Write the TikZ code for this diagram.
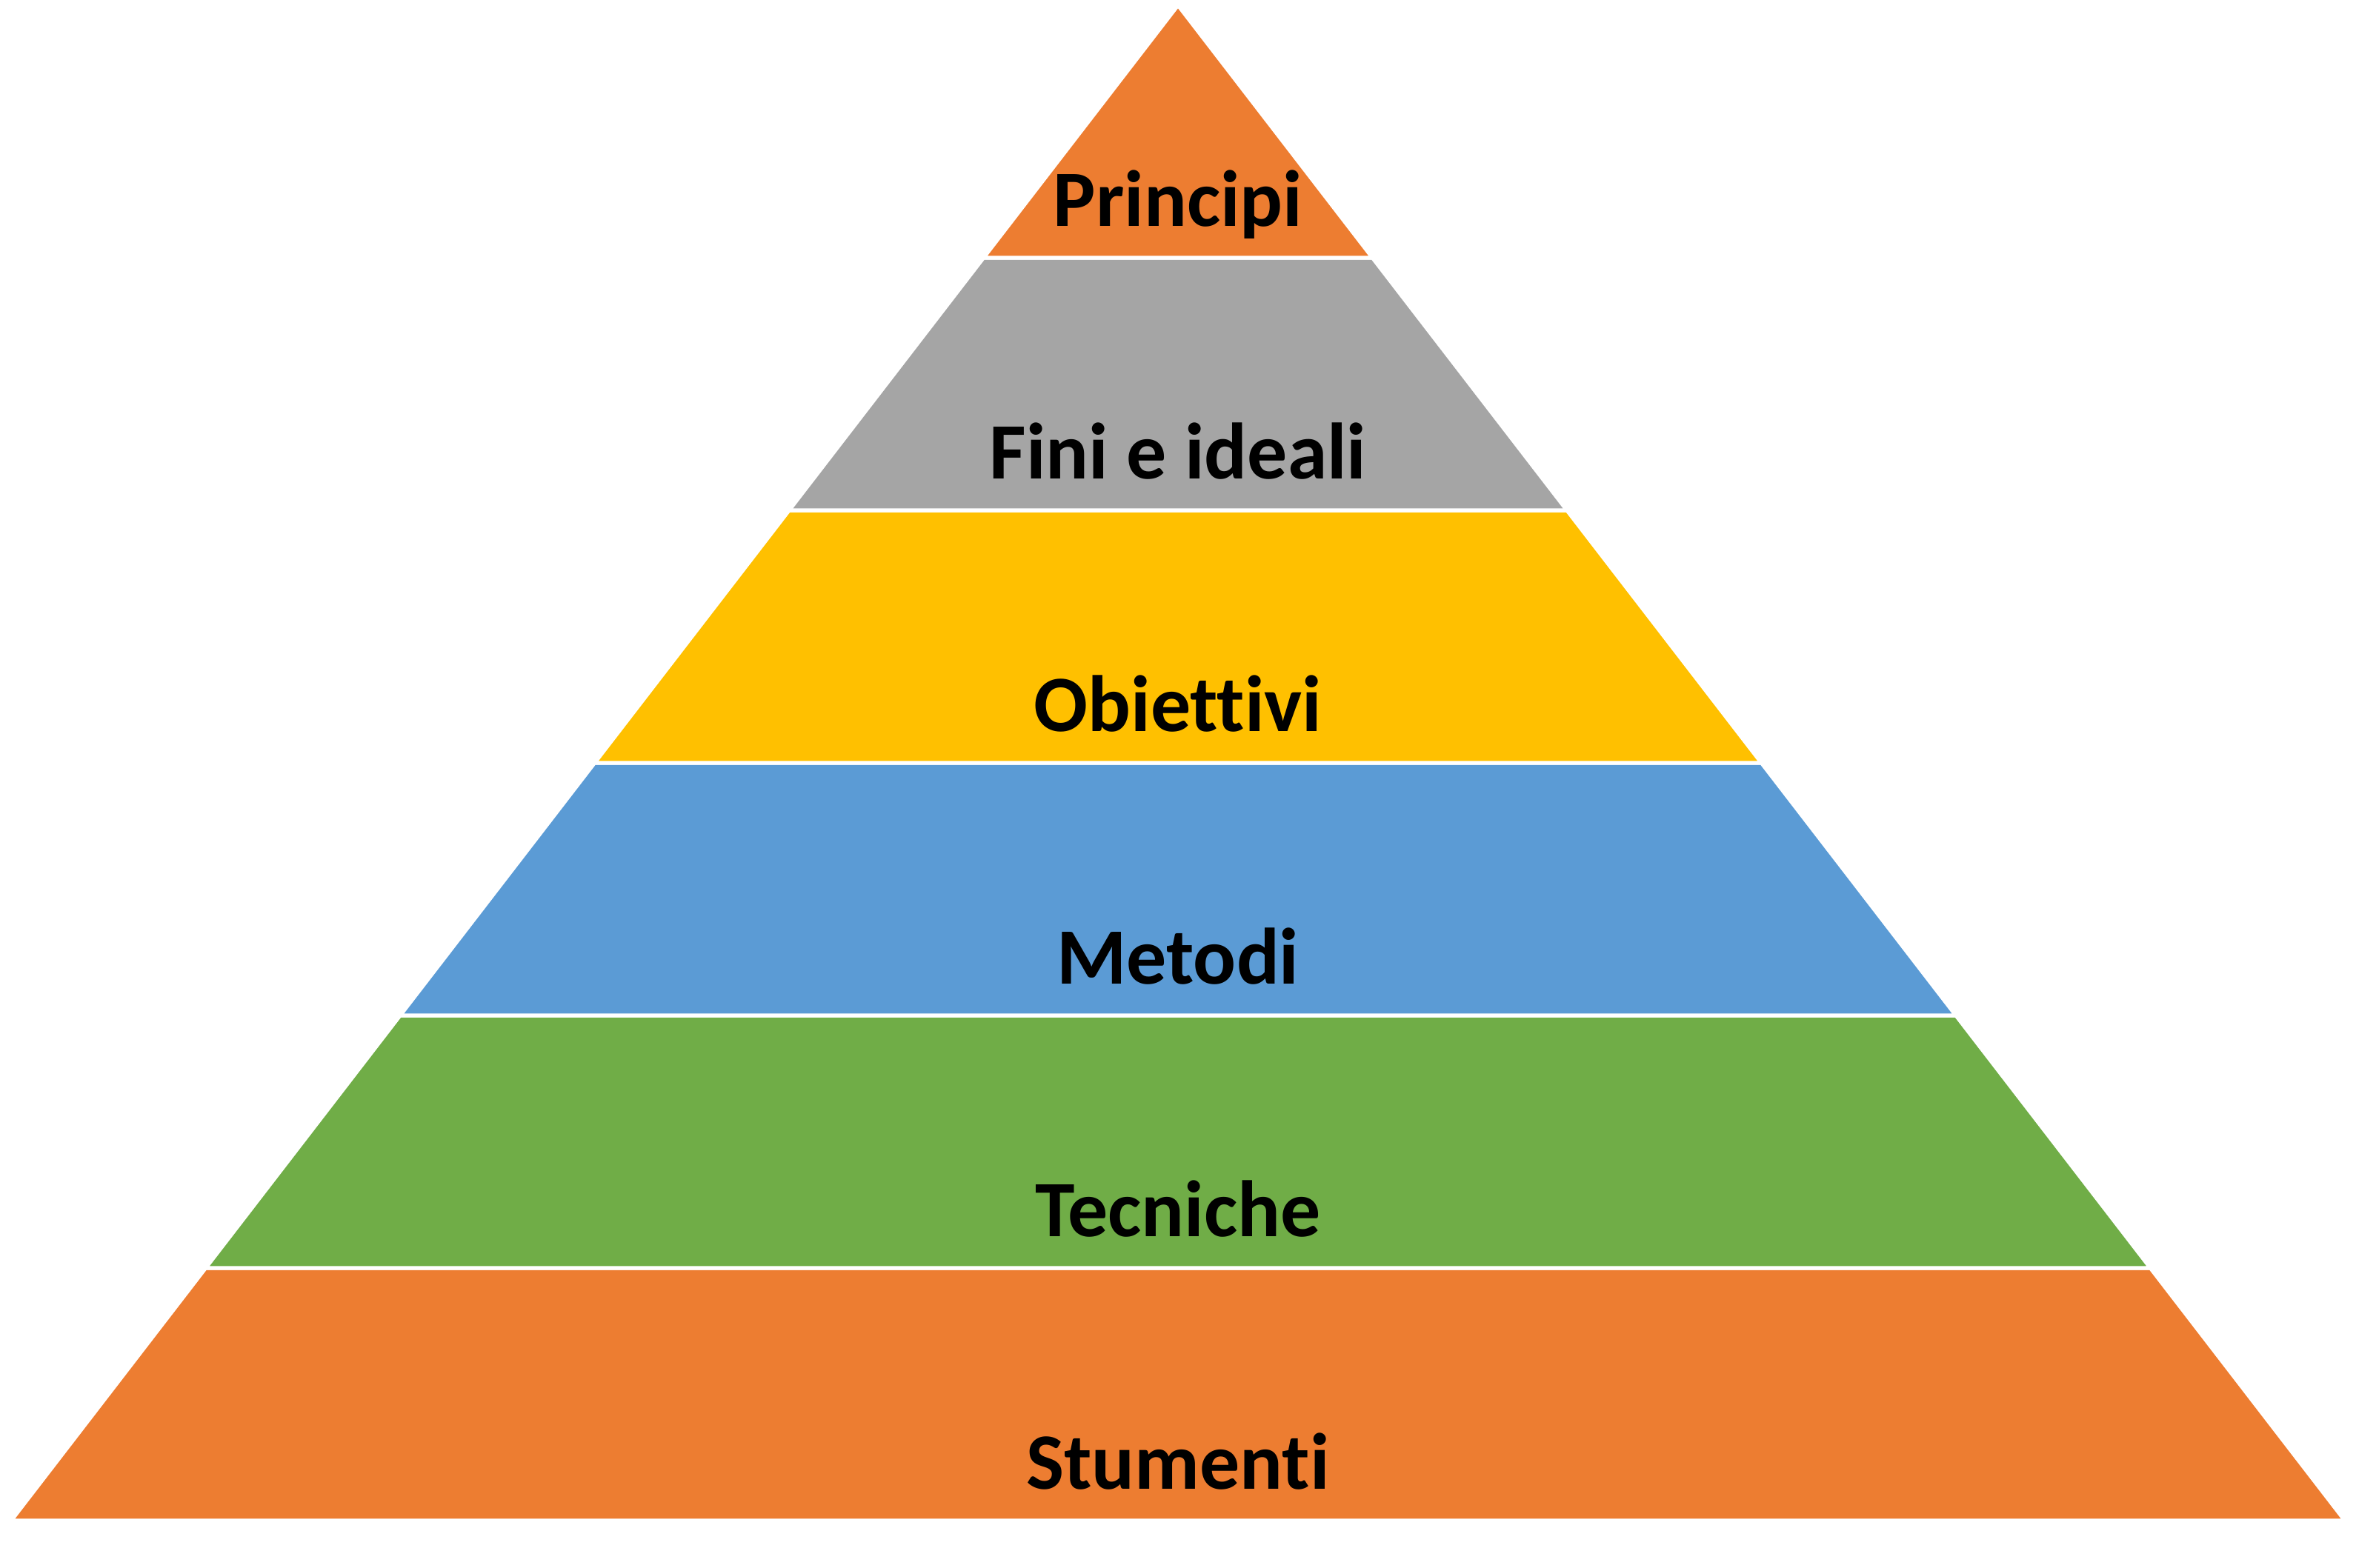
\documentclass[tikz,border=0pt]{standalone}
\usepackage{fontspec}
\setmainfont{Carlito}[Ligatures=NoCommon]
\usetikzlibrary{positioning}
\definecolor{layerorange}{RGB}{237,125,49}
\definecolor{layergrey}{RGB}{165,165,165}
\definecolor{layergold}{RGB}{255,192,0}
\definecolor{layerblue}{RGB}{91,155,213}
\definecolor{layergreen}{RGB}{112,173,71}
\tikzset{
  layer/.style={draw=white,line width=1.5pt,line join=bevel},
  lbl/.style={font=\fontsize{30.7}{36}\selectfont\bfseries,text=black,
              anchor=base,inner sep=0pt},
}
\begin{document}
\begin{tikzpicture}[x=1cm,y=1cm]
  \useasboundingbox (0,0) rectangle (31.8,21.17);
  % ---------------- layers, bottom to top ----------------
  \draw[layer,fill=layerorange] (0.15,0.64)   -- (31.65,0.64)   -- (29.025,4.05)  -- (2.775,4.05)  -- cycle;
  \draw[layer,fill=layergreen]  (2.775,4.05)  -- (29.025,4.05)  -- (26.40,7.46)   -- (5.40,7.46)   -- cycle;
  \draw[layer,fill=layerblue]   (5.40,7.46)   -- (26.40,7.46)   -- (23.775,10.87) -- (8.025,10.87) -- cycle;
  \draw[layer,fill=layergold]   (8.025,10.87) -- (23.775,10.87) -- (21.15,14.28)  -- (10.65,14.28) -- cycle;
  \draw[layer,fill=layergrey]   (10.65,14.28) -- (21.15,14.28)  -- (18.525,17.69) -- (13.275,17.69) -- cycle;
  \draw[layer,fill=layerorange] (13.275,17.69) -- (18.525,17.69) -- (15.90,21.10) -- cycle;
  % ---------------- labels ----------------
  \node[lbl] (stumenti)  at (15.9,1.06)  {Stumenti};
  \node[lbl] (tecniche)  at (15.9,4.47)  {Tecniche};
  \node[lbl] (metodi)    at (15.9,7.88)  {Metodi};
  \node[lbl] (obiettivi) at (15.9,11.29) {Obiettivi};
  \node[lbl] (fini)      at (15.9,14.70) {Fini e ideali};
  \node[lbl] (principi)  at (15.9,18.11) {Principi};
\end{tikzpicture}
\end{document}
